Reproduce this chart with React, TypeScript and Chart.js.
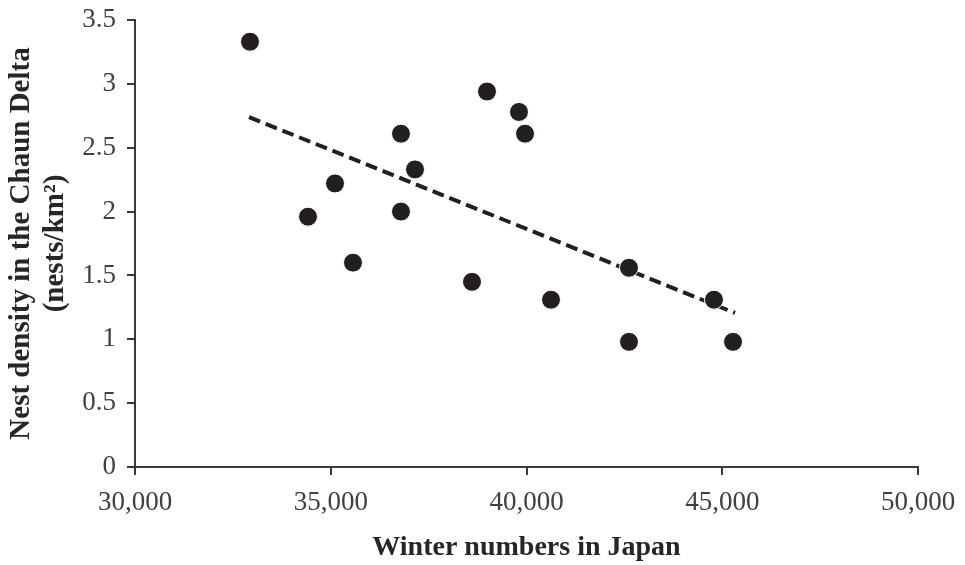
import React, { useEffect, useRef } from "react";
import { Chart, registerables } from "chart.js";

Chart.register(...registerables);

const winterNumbers = [32937, 34419, 35109, 35568, 36794, 36794, 37152, 38608, 38991, 39808, 39962, 40626, 42618, 42618, 44789, 45275];
const nestDensity = [3.33, 1.96, 2.22, 1.6, 2.61, 2.0, 2.33, 1.45, 2.94, 2.78, 2.61, 1.31, 1.56, 0.98, 1.31, 0.98];
const trendX = [32912, 45326];
const trendY = [2.74, 1.206];
const xTitle = "Winter numbers in Japan";
const yTitle = ["Nest density in the Chaun Delta", "(nests/km²)"];
const xTickValues = [30000, 35000, 40000, 45000, 50000];
const yTickValues = [0, 0.5, 1, 1.5, 2, 2.5, 3, 3.5];

const FONT = "'Liberation Serif', 'Times New Roman', serif";

export default function App() {
  const ref = useRef<HTMLCanvasElement>(null);
  useEffect(() => {
    if (!ref.current) return;
    const chart = new Chart(ref.current, {
      type: "scatter",
      data: {
        datasets: [
          {
            type: "scatter",
            label: "Nest density",
            data: winterNumbers.map((x, i) => ({ x, y: nestDensity[i] })),
            backgroundColor: "#231f20",
            borderColor: "#ffffff",
            borderWidth: 1,
            pointRadius: 9.5,
            order: 0,
          },
          {
            type: "line",
            label: "Trend",
            data: trendX.map((x, i) => ({ x, y: trendY[i] })),
            borderColor: "#231f20",
            borderWidth: 4,
            borderDash: [12, 6],
            pointRadius: 0,
            fill: false,
            order: 1,
          } as any,
        ],
      },
      options: {
        responsive: false,
        animation: false,
        layout: { padding: { top: 20, right: 47, bottom: 0, left: 0 } },
        plugins: { legend: { display: false }, tooltip: { enabled: false } },
        scales: {
          x: {
            type: "linear",
            min: 30000,
            max: 50000,
            afterBuildTicks: (s: any) => {
              s.ticks = xTickValues.map((v) => ({ value: v }));
            },
            afterFit: (s: any) => {
              s.height = 98;
              s.paddingLeft = 0;
              s.paddingRight = 0;
            },
            border: { display: true, color: "#3a3a3a", width: 2 },
            grid: { display: true, drawOnChartArea: false, drawTicks: true, tickLength: 8, color: "#3a3a3a", lineWidth: 2 },
            ticks: {
              padding: 12,
              color: "#404040",
              font: { family: FONT, size: 27 },
              maxRotation: 0,
              autoSkip: false,
              callback: (v: any) => Number(v).toLocaleString("en-US"),
            },
            title: {
              display: true,
              text: xTitle,
              color: "#262626",
              font: { family: FONT, size: 28, weight: "bold", lineHeight: 1.2 },
              padding: { top: 0, bottom: 0 },
            },
          },
          y: {
            type: "linear",
            min: 0,
            max: 3.5,
            afterBuildTicks: (s: any) => {
              s.ticks = yTickValues.map((v) => ({ value: v }));
            },
            afterFit: (s: any) => {
              s.width = 135;
              s.paddingTop = 0;
              s.paddingBottom = 0;
            },
            border: { display: true, color: "#3a3a3a", width: 2 },
            grid: { display: true, drawOnChartArea: false, drawTicks: true, tickLength: 8, color: "#3a3a3a", lineWidth: 2 },
            ticks: {
              padding: 11,
              color: "#404040",
              font: { family: FONT, size: 27 },
              autoSkip: false,
              callback: (v: any) => String(v),
            },
            title: {
              display: true,
              text: yTitle,
              color: "#262626",
              font: { family: FONT, size: 29, weight: "bold", lineHeight: 1.15 },
              padding: { top: 5, bottom: 0 },
            },
          },
        },
      },
    });
    return () => chart.destroy();
  }, []);
  return (
    <div style={{ position: "absolute", left: 0, top: 0, width: 965, height: 565, background: "#fff" }}>
      <canvas ref={ref} width={965} height={565} style={{ display: "block", width: 965, height: 565 }} />
    </div>
  );
}
